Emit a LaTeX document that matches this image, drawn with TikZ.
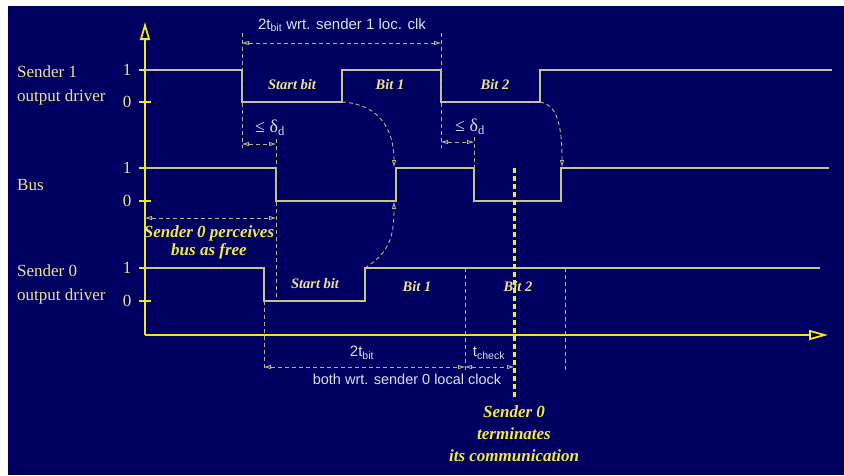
\documentclass[tikz,border=0pt]{standalone}
\usepackage{fontspec}
\setmainfont{Liberation Serif}
\setsansfont{Liberation Sans}
\usetikzlibrary{arrows.meta}
\definecolor{bg}{RGB}{0,0,96}
\definecolor{sigc}{RGB}{200,194,140}
\definecolor{dashc}{RGB}{185,180,135}
\definecolor{axisc}{RGB}{238,228,50}
\definecolor{yel}{RGB}{242,232,70}
\definecolor{txtw}{RGB}{222,222,238}
\definecolor{lab}{RGB}{236,226,150}
\tikzset{
  axisline/.style={axisc, line width=1.8pt},
  sigline/.style={sigc, line width=1.3pt},
  dline/.style={dashc, line width=0.9pt, dash pattern=on 4pt off 3pt},
  bracket/.style={dline, {Triangle[open,length=7pt,width=4pt]}-{Triangle[open,length=7pt,width=4pt]}},
  termline/.style={yel, line width=3pt, dash pattern=on 5pt off 3pt},
  sidelabel/.style={lab, font=\fontsize{17}{24}\selectfont, align=left, anchor=west, inner sep=0pt},
  ticklabel/.style={lab, font=\fontsize{17}{20}\selectfont, inner sep=0pt},
  bitlabel/.style={lab, font=\fontsize{14.5}{17}\selectfont\bfseries\itshape, inner sep=0pt},
  note/.style={yel, font=\fontsize{17}{20}\selectfont\bfseries\itshape, align=center, inner sep=0pt},
  sanslabel/.style={txtw, font=\fontsize{15}{18}\sffamily, inner sep=0pt},
  mlabel/.style={txtw, font=\fontsize{18}{20}\selectfont, inner sep=0pt}
}
\begin{document}
\begin{tikzpicture}[x=1pt,y=-1pt]
\useasboundingbox (0,0) rectangle (844,475);
\fill[white] (0,0) rectangle (844,475);
\fill[bg] (8,6) rectangle (844,475);

% axes
\coordinate (O) at (145,335);
\coordinate (ytop) at (145,22);
\coordinate (xend) at (828,335);
\draw[axisline, -{Triangle[length=18pt,width=10pt,fill=black]}] (O) -- (ytop);
\draw[axisline, -{Triangle[length=19pt,width=10pt,fill=black]}] (O) -- (xend);
\foreach \y in {70,102,168,201,268,301} \draw[axisc, line width=1.4pt] (139,\y) -- (151,\y);
\foreach \y/\v in {70/1,102/0,168/1,201/0,268/1,301/0} \node[ticklabel] (t\y) at (127,\y) {\v};

% side labels
\node[sidelabel] (s1) at (17,85) {Sender 1\\output driver};
\node[sidelabel] (bus) at (17,185) {Bus};
\node[sidelabel] (s0) at (17,284) {Sender 0\\output driver};

% signals
\coordinate (a1) at (242,70);  \coordinate (a2) at (242,102);
\coordinate (a3) at (342,102); \coordinate (a4) at (342,70);
\coordinate (a5) at (441,70);  \coordinate (a6) at (441,102);
\coordinate (a7) at (540,102); \coordinate (a8) at (540,70);
\draw[sigline] (145,70) -- (a1) -- (a2) -- (a3) -- (a4) -- (a5) -- (a6) -- (a7) -- (a8) -- (832,70);
\coordinate (b1) at (276,168); \coordinate (b2) at (276,201);
\coordinate (b3) at (396,201); \coordinate (b4) at (396,168);
\coordinate (b5) at (474,168); \coordinate (b6) at (474,201);
\coordinate (b7) at (561,201); \coordinate (b8) at (561,168);
\draw[sigline] (145,168) -- (b1) -- (b2) -- (b3) -- (b4) -- (b5) -- (b6) -- (b7) -- (b8) -- (829,168);
\coordinate (c1) at (264,268); \coordinate (c2) at (264,301);
\coordinate (c3) at (365,301); \coordinate (c4) at (365,268);
\draw[sigline] (145,268) -- (c1) -- (c2) -- (c3) -- (c4) -- (820,268);

% dashed verticals
\draw[dline] (242,33) -- (242,148);
\draw[dline] (441,33) -- (441,148);
\draw[dline] (276,139) -- (276,300);
\draw[dline] (474,137) -- (474,168);
\draw[dline] (264,301) -- (264,370);
\draw[dline] (465,268) -- (465,370);
\draw[dline] (565,268) -- (565,370);

% brackets
\coordinate (tl) at (242,43); \coordinate (tr) at (441,43);
\draw[bracket] (tl) -- (tr);
\coordinate (d1l) at (242,144); \coordinate (d1r) at (276,144);
\draw[bracket] (d1l) -- (d1r);
\coordinate (d2l) at (441,142); \coordinate (d2r) at (474,142);
\draw[bracket] (d2l) -- (d2r);
\coordinate (fl) at (145,218); \coordinate (fr) at (276,218);
\draw[bracket] (fl) -- (fr);
\coordinate (bl) at (264,367); \coordinate (bm) at (465,367); \coordinate (br) at (514,367);
\draw[bracket] (bl) -- (bm);
\draw[bracket] (bm) -- (br);

% propagation curves
\draw[dline, -{Triangle[open,length=7pt,width=4pt]}] (a3) .. controls (378,104) and (394,128) .. (394,167);
\draw[dline, -{Triangle[open,length=7pt,width=4pt]}] (c4) .. controls (390,252) and (394,236) .. (394,202);
\draw[dline, -{Triangle[open,length=7pt,width=4pt]}] (a7) .. controls (557,105) and (562,124) .. (562,167);

% labels
\node[sanslabel] (l2t) at (342,25) {2t\textsubscript{bit} wrt. sender 1 loc. clk};
\node[mlabel] (ld1) at (270,128) {≤ δ\textsubscript{d}};
\node[mlabel] (ld2) at (470,127) {≤ δ\textsubscript{d}};
\node[sanslabel] (l2b) at (362,353) {2t\textsubscript{bit}};
\node[sanslabel] (ltc) at (489,353) {t\textsubscript{check}};
\node[sanslabel, font=\fontsize{14.5}{17}\sffamily] (lboth) at (407,379) {both wrt. sender 0 local clock};

\node[bitlabel] (sb1) at (292,85) {Start bit};
\node[bitlabel] (b11) at (390,85) {Bit 1};
\node[bitlabel] (b21) at (495,85) {Bit 2};
\node[bitlabel] (sb0) at (315,284) {Start bit};
\node[bitlabel] (b10) at (417,287) {Bit 1};
\node[bitlabel] (b20) at (518,287) {Bit 2};

\node[note, font=\fontsize{17}{18}\selectfont\bfseries\itshape] (free) at (209,242) {Sender 0 perceives\\bus as free};

% termination
\coordinate (tt) at (514,168); \coordinate (tb) at (514,400);
\draw[termline] (tt) -- (tb);
\node[note, font=\fontsize{17}{22}\selectfont\bfseries\itshape] (term) at (514,434) {Sender 0\\terminates\\its communication};
\end{tikzpicture}
\end{document}
